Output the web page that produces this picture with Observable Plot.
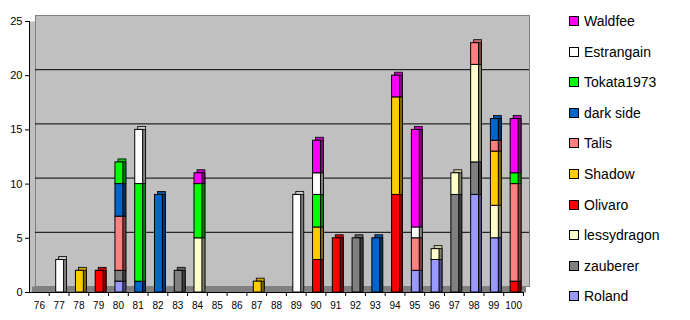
<!DOCTYPE html>
<html>
<head>
<meta charset="utf-8">
<script src="https://cdn.jsdelivr.net/npm/d3@7"></script>
<script src="https://cdn.jsdelivr.net/npm/@observablehq/plot@0.6"></script>
<style>
  body { margin: 0; background: #fff; font-family: "Liberation Sans", Arial, sans-serif; }
  #wrap { position: relative; width: 690px; height: 320px; }
  #chart { position: absolute; left: 0; top: 0; }
  #legend { position: absolute; left: 569px; top: 0; }
  .item { position: absolute; left: 0; height: 16px; display: flex; align-items: center; white-space: nowrap; font-size: 14px; color: #000; }
  .sw { width: 8px; height: 8px; border: 1px solid #000; margin-right: 5px; flex: none; }
</style>
</head>
<body>
<div id="wrap">
  <div id="chart"></div>
  <div id="legend"></div>
</div>
<script>
// ---- data ----
const years = ["76","77","78","79","80","81","82","83","84","85","86","87","88","89","90","91","92","93","94","95","96","97","98","99","100"];
// series in stacking order (bottom to top)
const seriesNames = ["Roland","zauberer","lessydragon","Olivaro","Shadow","Talis","dark side","Tokata1973","Estrangain","Waldfee"];
const seriesColors = ["#9999ff","#808080","#ffffcc","#ff0000","#ffcc00","#ff8080","#0066cc","#00ff00","#ffffff","#ff00ff"];
//                 76 77 78 79 80 81 82 83 84 85 86 87 88 89 90 91 92 93 94 95 96 97 98 99 100
const roland      = [0, 0, 0, 0, 1, 0, 0, 0, 0, 0, 0, 0, 0, 0, 0, 0, 0, 0, 0, 2, 3, 0, 9, 5, 0];
const zauberer    = [0, 0, 0, 0, 1, 0, 0, 2, 0, 0, 0, 0, 0, 0, 0, 0, 5, 0, 0, 0, 0, 9, 3, 0, 0];
const lessydragon = [0, 0, 0, 0, 0, 0, 0, 0, 5, 0, 0, 0, 0, 0, 0, 0, 0, 0, 0, 0, 1, 2, 9, 3, 0];
const olivaro     = [0, 0, 0, 2, 0, 0, 0, 0, 0, 0, 0, 0, 0, 0, 3, 5, 0, 0, 9, 0, 0, 0, 0, 0, 1];
const shadow      = [0, 0, 2, 0, 0, 0, 0, 0, 0, 0, 0, 1, 0, 0, 3, 0, 0, 0, 9, 0, 0, 0, 0, 5, 0];
const talis       = [0, 0, 0, 0, 5, 0, 0, 0, 0, 0, 0, 0, 0, 0, 0, 0, 0, 0, 0, 3, 0, 0, 2, 1, 9];
const darkSide    = [0, 0, 0, 0, 3, 1, 9, 0, 0, 0, 0, 0, 0, 0, 0, 0, 0, 5, 0, 0, 0, 0, 0, 2, 0];
const tokata1973  = [0, 0, 0, 0, 2, 9, 0, 0, 5, 0, 0, 0, 0, 0, 3, 0, 0, 0, 0, 0, 0, 0, 0, 0, 1];
const estrangain  = [0, 3, 0, 0, 0, 5, 0, 0, 0, 0, 0, 0, 0, 9, 2, 0, 0, 0, 0, 1, 0, 0, 0, 0, 0];
const waldfee     = [0, 0, 0, 0, 0, 0, 0, 0, 1, 0, 0, 0, 0, 0, 3, 0, 0, 0, 2, 9, 0, 0, 0, 0, 5];
const yTicks = [0, 5, 10, 15, 20, 25];
const gridValues = [5, 10, 15, 20];

const seriesValues = [roland, zauberer, lessydragon, olivaro, shadow, talis, darkSide, tokata1973, estrangain, waldfee];

const rows = [];
seriesNames.forEach((s, si) => {
  years.forEach((yr, i) => {
    const v = seriesValues[si][i];
    if (v > 0) rows.push({year: yr, series: s, value: v, color: seriesColors[si]});
  });
});

function shade(c, k) {
  const r = d3.rgb(c);
  return d3.rgb(r.r * k, r.g * k, r.b * k).formatHex();
}

const W = 545, H = 320, ML = 29, MR = 22, MT = 21, MB = 28;
const step = (W - ML - MR) / years.length;
const depth = 6;
const font = "'Liberation Sans', Arial, sans-serif";

const chart = Plot.plot({
  width: W, height: H,
  marginLeft: ML, marginRight: MR, marginTop: MT, marginBottom: MB,
  style: {fontFamily: font, background: "transparent", color: "#000"},
  x: {type: "band", domain: years, paddingInner: 0.6, paddingOuter: 0.3, round: false},
  y: {domain: [0, 25]},
  marks: [
    // left wall / base
    Plot.frame({fill: "#c0c0c0"}),
    // back wall
    Plot.frame({fill: "#c0c0c0", stroke: "#808080", dx: depth, dy: -depth}),
    // floor
    Plot.ruleY([0], {stroke: "#808080", strokeWidth: depth, dx: depth / 2, dy: -depth / 2}),
    // gridlines on back wall
    Plot.gridY(gridValues, {stroke: "#000", strokeOpacity: 1, strokeWidth: 1, dx: depth, dy: -depth}),
    // bar top faces
    Plot.barY(rows, {x: "year", y: "value", z: "series", fill: d => shade(d.color, 0.8), stroke: "#000", strokeWidth: 0.8, dx: 4, dy: -3}),
    // bar side faces
    Plot.barY(rows, {x: "year", y: "value", z: "series", fill: d => shade(d.color, 0.5), stroke: "#000", strokeWidth: 0.8, dx: 4, dy: 0}),
    // bar fronts
    Plot.barY(rows, {x: "year", y: "value", z: "series", fill: d => d.color, stroke: "#000", strokeWidth: 1, dx: 1}),
    // axis lines
    Plot.frame({anchor: "left", stroke: "#000"}),
    Plot.frame({anchor: "bottom", stroke: "#000"}),
    Plot.axisY({ticks: yTicks, tickSize: 4, tickPadding: 3, fontSize: 11, label: null}),
    Plot.axisX({tickSize: 0, tickPadding: 9.5, fontSize: 10, label: null}),
    Plot.axisX({tickSize: 4, tickFormat: () => "", dx: step / 2, label: null})
  ]
});
document.getElementById("chart").appendChild(chart);

// legend (top to bottom = reverse stacking order)
const legend = document.getElementById("legend");
const order = seriesNames.map((s, i) => i).reverse();
order.forEach((si, k) => {
  const item = document.createElement("div");
  item.className = "item";
  item.style.top = (21 + k * 30.6 - 8) + "px";
  const sw = document.createElement("span");
  sw.className = "sw";
  sw.style.background = seriesColors[si];
  const t = document.createElement("span");
  t.textContent = seriesNames[si];
  item.appendChild(sw);
  item.appendChild(t);
  legend.appendChild(item);
});
</script>
</body>
</html>
